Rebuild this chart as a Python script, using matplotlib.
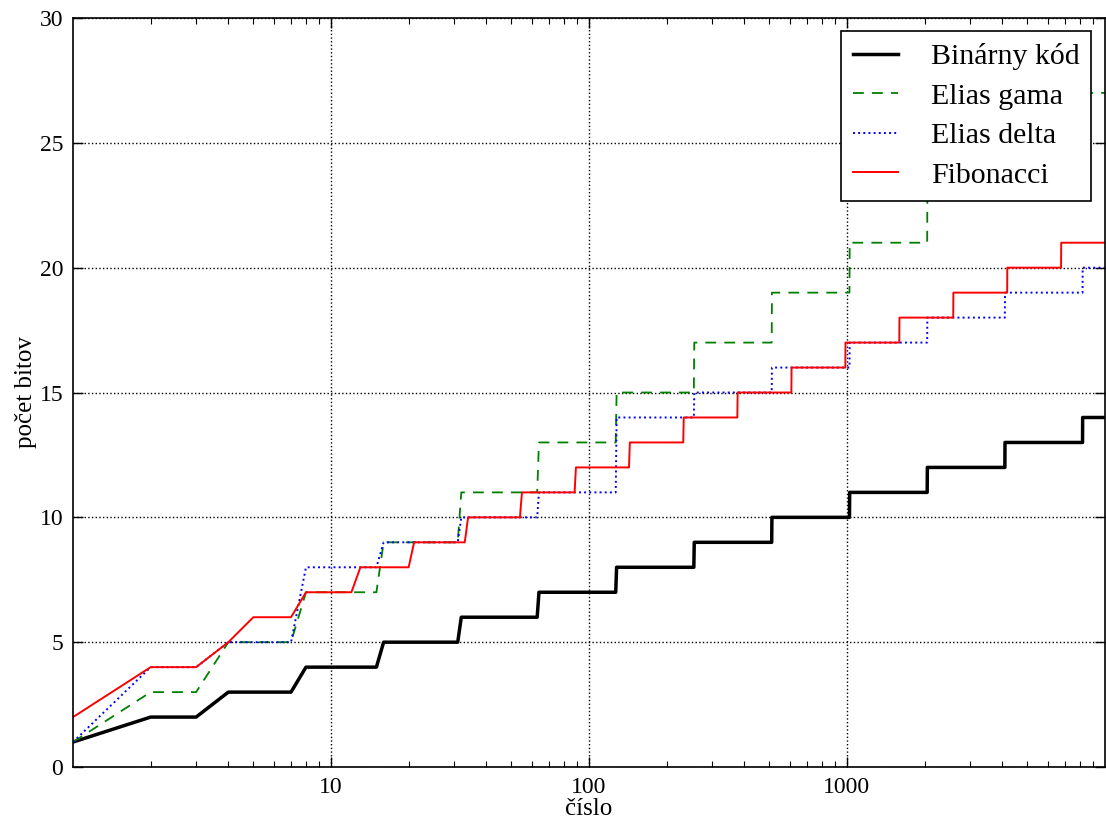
import numpy as np
import matplotlib
matplotlib.use('Agg')
import matplotlib.pyplot as plt
from matplotlib.ticker import FixedLocator, FixedFormatter

# Code length steps: first number where a length starts, and the length in bits
binary_start = [1, 2, 4, 8, 16, 32, 64, 128, 256, 512, 1024, 2048, 4096, 8192]
binary_bits = [1, 2, 3, 4, 5, 6, 7, 8, 9, 10, 11, 12, 13, 14]

gamma_start = [1, 2, 4, 8, 16, 32, 64, 128, 256, 512, 1024, 2048, 4096, 8192]
gamma_bits = [1, 3, 5, 7, 9, 11, 13, 15, 17, 19, 21, 23, 25, 27]

delta_start = [1, 2, 4, 8, 16, 32, 64, 128, 256, 512, 1024, 2048, 4096, 8192]
delta_bits = [1, 4, 5, 8, 9, 10, 11, 14, 15, 16, 17, 18, 19, 20]

fib_start = [1, 2, 4, 5, 8, 13, 21, 34, 55, 89, 144, 233, 377, 610, 987,
             1597, 2584, 4181, 6765]
fib_bits = [2, 4, 5, 6, 7, 8, 9, 10, 11, 12, 13, 14, 15, 16, 17,
            18, 19, 20, 21]

n_max = 9999
labels = ['Binárny kód', 'Elias gama', 'Elias delta', 'Fibonacci']

plt.rcParams['font.family'] = ['Liberation Serif', 'DejaVu Serif']


def expand(start, bits):
    n = np.arange(1, n_max + 1)
    idx = np.searchsorted(start, n, side='right') - 1
    return n, np.asarray(bits)[idx]


fig = plt.figure(figsize=(11.06, 8.26), dpi=100)
ax = fig.add_axes([0.066, 0.0714, 0.933, 0.9068])

n, y = expand(binary_start, binary_bits)
ax.plot(n, y, 'k-', lw=2.5, label=labels[0])
n, y = expand(gamma_start, gamma_bits)
ax.plot(n, y, '--', color=(0, 0.5, 0), lw=1.3, dashes=(6, 4.5), label=labels[1])
n, y = expand(delta_start, delta_bits)
ax.plot(n, y, ':', color='b', lw=1.4, label=labels[2])
n, y = expand(fib_start, fib_bits)
ax.plot(n, y, 'r-', lw=1.4, label=labels[3])

ax.set_xscale('log')
ax.set_xlim(1, 10000)
ax.set_ylim(0, 30)
ax.xaxis.set_major_locator(FixedLocator([10, 100, 1000]))
ax.xaxis.set_major_formatter(FixedFormatter(['10', '100', '1000']))
ax.set_yticks(range(0, 31, 5))

ax.tick_params(which='both', direction='in', top=True, right=True,
               labelsize=17, pad=7)
ax.tick_params(which='major', length=7, width=1)
ax.tick_params(which='minor', length=4, width=0.8)
ax.tick_params(axis='y', which='minor', left=False, right=False)
ax.grid(True, which='major', color='k', linestyle=':', linewidth=1)

for s in ax.spines.values():
    s.set_linewidth(1.2)

ax.set_xlabel('číslo', fontsize=18, labelpad=0)
ax.set_ylabel('počet bitov', fontsize=18, labelpad=2)

leg = ax.legend(loc='upper right', fontsize=21.5, fancybox=False,
                framealpha=1, edgecolor='k', borderpad=0.4,
                handlelength=1.5, handletextpad=1.1, labelspacing=0.42,
                borderaxespad=0.45)
leg.get_frame().set_linewidth(1.2)

fig.savefig('out.png', dpi=100)
